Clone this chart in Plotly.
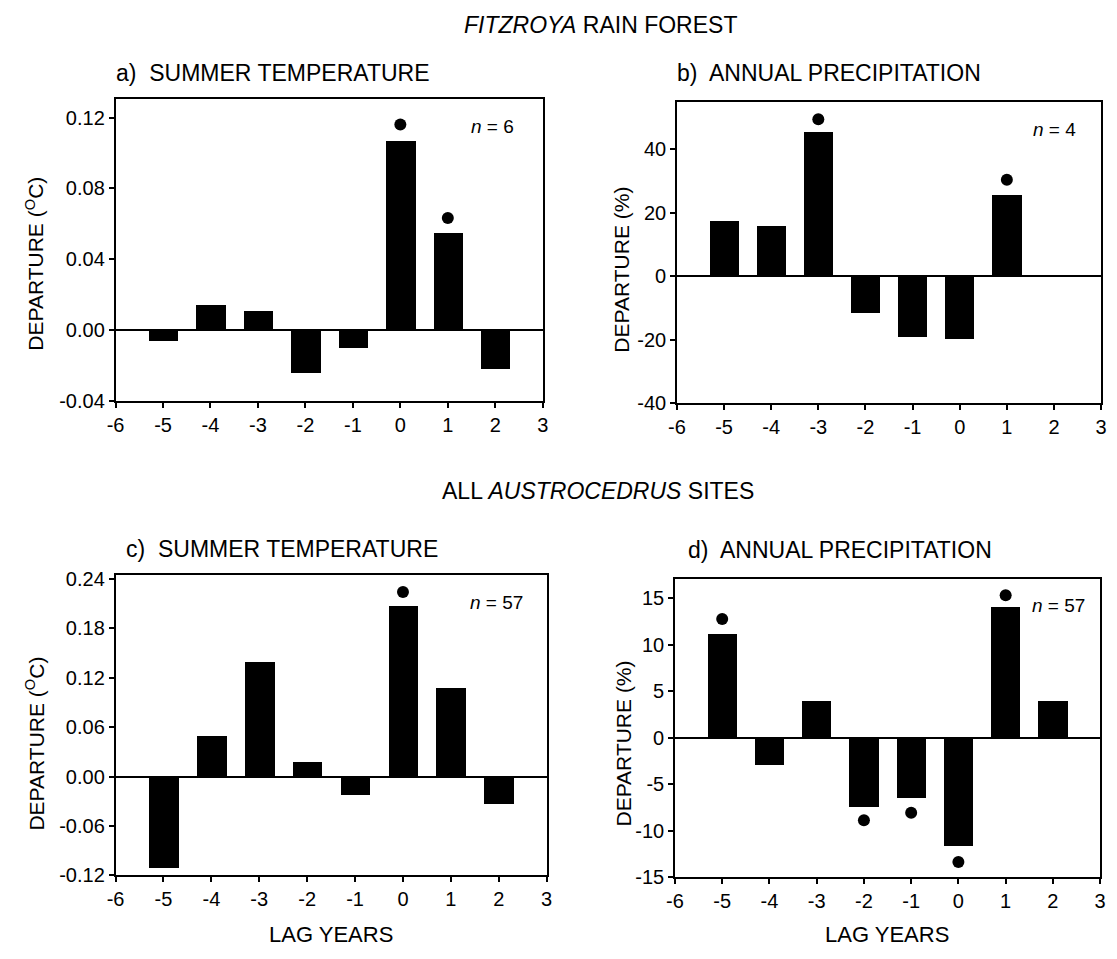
import plotly.graph_objects as go

W, H = 1117, 959

lags = [-5, -4, -3, -2, -1, 0, 1, 2]

# a) Fitzroya summer temperature departure (deg C)
a_vals = [-0.006, 0.014, 0.011, -0.024, -0.010, 0.1065, 0.055, -0.022]
a_dot_x = [0, 1]
a_dot_y = [0.116, 0.0634]

# b) Fitzroya annual precipitation departure (%)
b_vals = [17.4, 15.8, 45.5, -11.6, -19.1, -19.8, 25.4, 0.4]
b_dot_x = [-3, 1]
b_dot_y = [49.4, 30.4]

# c) Austrocedrus summer temperature departure (deg C)
c_vals = [-0.1115, 0.049, 0.1385, 0.018, -0.0227, 0.2073, 0.1075, -0.033]
c_dot_x = [0]
c_dot_y = [0.224]

# d) Austrocedrus annual precipitation departure (%)
d_vals = [11.1, -2.9, 3.9, -7.5, -6.5, -11.65, 14.0, 3.9]
d_dot_x = [-5, -2, -1, 0, 1]
d_dot_y = [12.75, -8.87, -8.05, -13.35, 15.3]

x_ticks = [-6, -5, -4, -3, -2, -1, 0, 1, 2, 3]
a_ticks = [-0.04, 0.00, 0.04, 0.08, 0.12]
b_ticks = [-40, -20, 0, 20, 40]
c_ticks = [-0.12, -0.06, 0.00, 0.06, 0.12, 0.18, 0.24]
d_ticks = [-15, -10, -5, 0, 5, 10, 15]

FONT = "Liberation Sans, Arial, Helvetica, sans-serif"


def px_x(p):
    return p / W


def px_y(p):
    return 1 - p / H


# panel pixel boxes: left, right, top, bottom
boxes = {
    "a": (108, 541, 94, 402),
    "b": (677, 1107, 97, 404),
    "c": (108, 545, 579, 885),
    "d": (675, 1106, 583, 887),
}

panels = [
    ("a", a_vals, a_dot_x, a_dot_y, a_ticks, [f"{v:.2f}" for v in a_ticks], [-0.04, 0.1303]),
    ("b", b_vals, b_dot_x, b_dot_y, b_ticks, [str(v) for v in b_ticks], [-40, 54.8]),
    ("c", c_vals, c_dot_x, c_dot_y, c_ticks, [f"{v:.2f}" for v in c_ticks], [-0.12, 0.2445]),
    ("d", d_vals, d_dot_x, d_dot_y, d_ticks, [str(v) for v in d_ticks], [-15, 17.05]),
]

fig = go.Figure()
layout = dict(
    width=W, height=H,
    margin=dict(l=0, r=0, t=0, b=0),
    paper_bgcolor="white", plot_bgcolor="white",
    showlegend=False,
    font=dict(family=FONT, color="black", size=20),
    bargap=0,
)

for i, (key, vals, dx, dy, yt, ytt, yr) in enumerate(panels):
    n = "" if i == 0 else str(i + 1)
    xa, ya = "x" + n, "y" + n
    l, r, t, b = boxes[key]
    fig.add_trace(go.Bar(x=lags, y=vals, width=0.62, marker=dict(color="black", line=dict(width=0)),
                         xaxis=xa, yaxis=ya))
    fig.add_trace(go.Scatter(x=dx, y=dy, mode="markers", marker=dict(color="black", size=12),
                             xaxis=xa, yaxis=ya))
    common = dict(showline=True, mirror=True, linecolor="black", linewidth=1.5,
                  ticks="outside", ticklen=5, tickwidth=1.5, tickcolor="black",
                  showgrid=False, tickfont=dict(size=20, family=FONT, color="black"))
    layout["xaxis" + n] = dict(domain=[px_x(l), px_x(r)], range=[-6, 3], tickvals=x_ticks,
                               ticktext=[str(v) for v in x_ticks], zeroline=False,
                               anchor=ya, **common)
    layout["yaxis" + n] = dict(domain=[px_y(b), px_y(t)], range=yr, tickvals=yt, ticktext=ytt,
                               zeroline=True, zerolinecolor="black", zerolinewidth=1.5,
                               anchor=xa, **common)

annotations = []


def ann(text, x, y, size, xanchor="center", angle=0):
    annotations.append(dict(text=text, x=px_x(x), y=px_y(y), xref="paper", yref="paper",
                            xanchor=xanchor, yanchor="middle", showarrow=False, textangle=angle,
                            font=dict(size=size, family=FONT, color="black")))


ann("<i>FITZROYA</i> RAIN FOREST", 600, 18, 23)
ann("ALL <i>AUSTROCEDRUS</i> SITES", 597, 493, 23)
ann("a)\u00a0 SUMMER TEMPERATURE", 106, 67, 23, xanchor="left")
ann("b)\u00a0 ANNUAL PRECIPITATION", 675, 67, 23, xanchor="left")
ann("c)\u00a0 SUMMER TEMPERATURE", 117, 552, 23, xanchor="left")
ann("d)\u00a0 ANNUAL PRECIPITATION", 686, 553, 23, xanchor="left")
ann("DEPARTURE (<sup>O</sup>C)", 26, 262, 21, angle=-90)
ann("DEPARTURE (%)", 621, 268, 21, angle=-90)
ann("DEPARTURE (<sup>O</sup>C)", 26, 751, 21, angle=-90)
ann("DEPARTURE (%)", 623, 751, 21, angle=-90)
ann("<i>n</i> = 6", 490, 122, 19)
ann("<i>n</i> = 4", 1060, 125, 19)
ann("<i>n</i> = 57", 494, 607, 19)
ann("<i>n</i> = 57", 1064, 610, 19)
ann("LAG YEARS", 326, 945, 22)
ann("LAG YEARS", 890, 945, 22)

layout["annotations"] = annotations
fig.update_layout(**layout)
fig.write_html("out.html")
